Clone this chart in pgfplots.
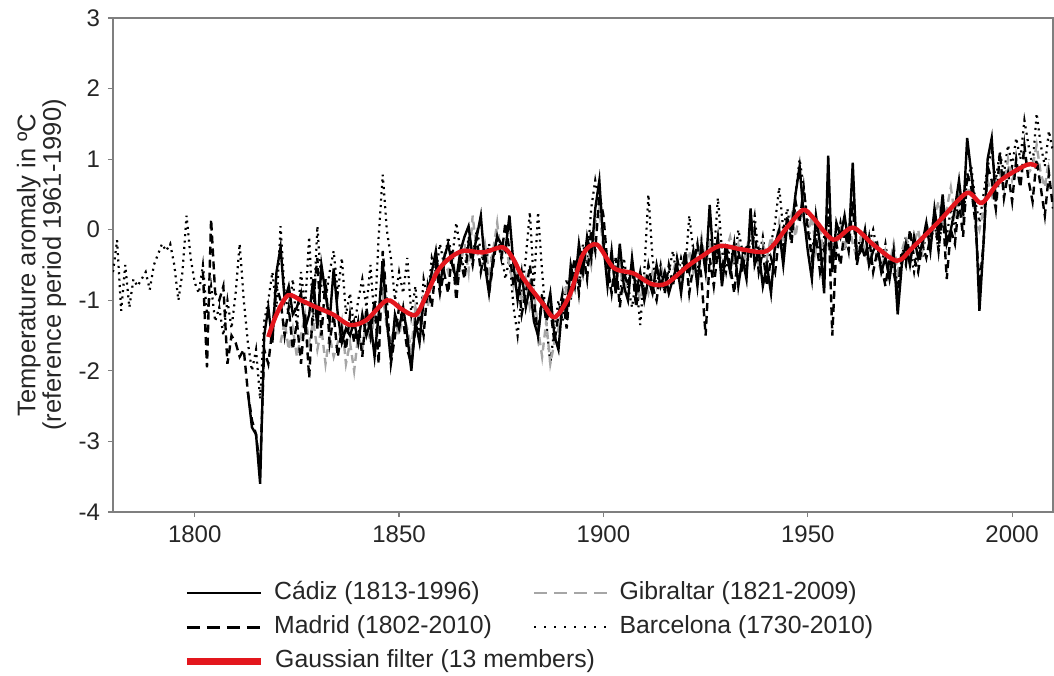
\documentclass[border=0pt]{standalone}
\usepackage{fontspec}
\setmainfont{Liberation Sans}
\usepackage{pgfplots}
\usepackage{pgfplotstable}
\pgfplotsset{compat=1.18}
\definecolor{framegray}{HTML}{7F7F7F}
\definecolor{gibgray}{HTML}{A6A6A6}
\definecolor{filtred}{HTML}{E3161D}

\pgfplotstableread[row sep=\\]{x y\\
1813 -2.3\\ 1814 -2.8\\ 1815 -2.9\\ 1816 -3.6\\ 1817 -1.5\\ 1818 -1.1\\ 1819 -1.6\\ 1820 -0.6\\
1821 -0.25\\ 1822 -1.0\\ 1823 -0.8\\ 1824 -1.2\\ 1825 -1.1\\ 1826 -0.9\\ 1827 -1.4\\ 1828 -1.2\\ 1829 -0.7\\ 1830 -1.4\\
1831 -0.5\\ 1832 -0.9\\ 1833 -1.3\\ 1834 -0.55\\ 1835 -1.2\\ 1836 -1.6\\ 1837 -1.4\\ 1838 -1.5\\ 1839 -1.3\\ 1840 -1.6\\
1841 -1.2\\ 1842 -1.5\\ 1843 -1.3\\ 1844 -1.8\\ 1845 -1.2\\ 1846 -0.45\\ 1847 -1.3\\ 1848 -1.85\\ 1849 -1.2\\ 1850 -1.4\\
1851 -1.1\\ 1852 -1.5\\ 1853 -2.0\\ 1854 -1.3\\ 1855 -1.6\\ 1856 -1.0\\ 1857 -0.9\\ 1858 -0.6\\ 1859 -0.3\\ 1860 -0.8\\
1861 -0.4\\ 1862 -0.2\\ 1863 -0.5\\ 1864 -0.7\\ 1865 -0.3\\ 1866 -0.1\\ 1867 0.05\\ 1868 -0.4\\ 1869 -0.1\\ 1870 0.2\\
1871 -0.5\\ 1872 -0.9\\ 1873 -0.4\\ 1874 -0.1\\ 1875 -0.2\\ 1876 -0.3\\ 1877 0.2\\ 1878 -0.5\\ 1879 -1.0\\ 1880 -0.6\\
1881 -1.1\\ 1882 -0.8\\ 1883 -1.3\\ 1884 -1.5\\ 1885 -1.0\\ 1886 -1.2\\ 1887 -0.9\\ 1888 -1.5\\ 1889 -1.7\\ 1890 -1.0\\
1891 -1.2\\ 1892 -0.5\\ 1893 -0.8\\ 1894 -0.2\\ 1895 -0.6\\ 1896 -0.1\\ 1897 -0.4\\ 1898 0.3\\ 1899 0.7\\ 1900 -0.2\\
1901 -0.8\\ 1902 -0.3\\ 1903 -0.9\\ 1904 -0.2\\ 1905 -0.8\\ 1906 -1.0\\ 1907 -0.4\\ 1908 -0.9\\ 1909 -0.6\\ 1910 -1.0\\
1911 -0.7\\ 1912 -0.9\\ 1913 -0.5\\ 1914 -0.8\\ 1915 -0.6\\ 1916 -0.9\\ 1917 -0.7\\ 1918 -0.5\\ 1919 -0.9\\ 1920 -0.4\\
1921 -0.6\\ 1922 -0.3\\ 1923 -0.8\\ 1924 -0.2\\ 1925 -0.6\\ 1926 0.35\\ 1927 -0.5\\ 1928 -0.1\\ 1929 -0.8\\ 1930 -0.3\\
1931 -0.6\\ 1932 -0.2\\ 1933 -0.8\\ 1934 -0.4\\ 1935 -0.7\\ 1936 0.3\\ 1937 -0.5\\ 1938 -0.3\\ 1939 -0.8\\ 1940 -0.5\\
1941 -0.9\\ 1942 -0.2\\ 1943 0.0\\ 1944 -0.5\\ 1945 0.1\\ 1946 0.0\\ 1947 0.5\\ 1948 0.9\\ 1949 0.2\\ 1950 -0.3\\
1951 -0.7\\ 1952 0.2\\ 1953 -0.2\\ 1954 -0.9\\ 1955 1.05\\ 1956 -0.6\\ 1957 0.1\\ 1958 -0.1\\ 1959 0.2\\ 1960 -0.2\\
1961 0.95\\ 1962 -0.4\\ 1963 -0.3\\ 1964 0.0\\ 1965 -0.5\\ 1966 -0.3\\ 1967 -0.2\\ 1968 -0.6\\ 1969 -0.4\\ 1970 -0.7\\
1971 -0.3\\ 1972 -1.2\\ 1973 -0.5\\ 1974 -0.2\\ 1975 -0.5\\ 1976 -0.1\\ 1977 -0.4\\ 1978 -0.2\\ 1979 0.1\\ 1980 -0.3\\
1981 0.3\\ 1982 -0.1\\ 1983 0.5\\ 1984 -0.2\\ 1985 0.0\\ 1986 0.3\\ 1987 0.7\\ 1988 0.2\\ 1989 1.3\\ 1990 0.8\\
1991 0.3\\ 1992 -1.15\\ 1993 -0.2\\ 1994 1.0\\ 1995 1.3\\ 1996 0.4\\
}\cadiz

\pgfplotstableread[row sep=\\]{x y\\
1802 -0.6\\ 1803 -1.95\\ 1804 0.15\\ 1805 -0.9\\ 1806 -1.0\\ 1807 -0.8\\ 1808 -1.9\\ 1809 -1.5\\ 1810 -1.6\\
1811 -1.8\\ 1812 -1.7\\ 1813 -2.3\\ 1814 -2.7\\ 1815 -2.9\\ 1816 -3.4\\ 1817 -1.7\\ 1818 -1.9\\ 1819 -1.4\\ 1820 -0.8\\
1821 -1.0\\ 1822 -1.5\\ 1823 -1.1\\ 1824 -1.7\\ 1825 -1.3\\ 1826 -1.9\\ 1827 -1.2\\ 1828 -2.1\\ 1829 -1.0\\ 1830 -0.4\\
1831 -1.5\\ 1832 -0.7\\ 1833 -1.6\\ 1834 -1.2\\ 1835 -1.8\\ 1836 -1.4\\ 1837 -1.7\\ 1838 -1.2\\ 1839 -1.6\\ 1840 -1.3\\
1841 -1.8\\ 1842 -1.1\\ 1843 -1.5\\ 1844 -1.0\\ 1845 -1.9\\ 1846 -0.3\\ 1847 -1.0\\ 1848 -1.9\\ 1849 -1.5\\ 1850 -1.1\\
1851 -1.3\\ 1852 -1.7\\ 1853 -1.9\\ 1854 -1.4\\ 1855 -1.2\\ 1856 -1.5\\ 1857 -0.8\\ 1858 -1.1\\ 1859 -0.5\\ 1860 -0.9\\
1861 -0.6\\ 1862 -0.9\\ 1863 -0.3\\ 1864 -1.0\\ 1865 -0.4\\ 1866 -0.7\\ 1867 -0.2\\ 1868 -0.5\\ 1869 -0.1\\ 1870 -0.6\\
1871 -0.3\\ 1872 -0.9\\ 1873 -0.5\\ 1874 -0.1\\ 1875 -0.4\\ 1876 0.1\\ 1877 -0.3\\ 1878 -0.8\\ 1879 -0.6\\ 1880 -1.2\\
1881 -0.9\\ 1882 -0.5\\ 1883 -1.0\\ 1884 -1.5\\ 1885 -0.9\\ 1886 -1.3\\ 1887 -1.1\\ 1888 -1.6\\ 1889 -1.2\\ 1890 -0.9\\
1891 -1.4\\ 1892 -0.7\\ 1893 -0.4\\ 1894 -0.9\\ 1895 -0.3\\ 1896 -0.7\\ 1897 0.0\\ 1898 -0.3\\ 1899 0.5\\ 1900 0.2\\
1901 -0.5\\ 1902 -0.9\\ 1903 -0.4\\ 1904 -1.1\\ 1905 -0.6\\ 1906 -0.8\\ 1907 -0.5\\ 1908 -1.1\\ 1909 -0.7\\ 1910 -0.9\\
1911 -0.5\\ 1912 -0.8\\ 1913 -1.0\\ 1914 -0.6\\ 1915 -0.9\\ 1916 -0.5\\ 1917 -0.8\\ 1918 -0.4\\ 1919 -0.7\\ 1920 -0.3\\
1921 -0.9\\ 1922 -0.5\\ 1923 -0.2\\ 1924 -0.7\\ 1925 -1.5\\ 1926 -0.4\\ 1927 -0.8\\ 1928 -0.3\\ 1929 -0.6\\ 1930 -0.2\\
1931 -0.5\\ 1932 -0.9\\ 1933 -0.3\\ 1934 -0.6\\ 1935 -0.2\\ 1936 -0.4\\ 1937 0.0\\ 1938 -0.6\\ 1939 -0.3\\ 1940 -0.8\\
1941 -0.4\\ 1942 -0.6\\ 1943 -0.1\\ 1944 -0.3\\ 1945 0.2\\ 1946 -0.2\\ 1947 0.4\\ 1948 0.1\\ 1949 0.6\\ 1950 0.0\\
1951 -0.4\\ 1952 -0.1\\ 1953 -0.6\\ 1954 -0.3\\ 1955 0.3\\ 1956 -1.5\\ 1957 -0.2\\ 1958 -0.5\\ 1959 0.0\\ 1960 -0.3\\
1961 0.4\\ 1962 -0.5\\ 1963 -0.2\\ 1964 -0.4\\ 1965 -0.1\\ 1966 -0.6\\ 1967 -0.3\\ 1968 -0.5\\ 1969 -0.8\\ 1970 -0.4\\
1971 -0.6\\ 1972 -0.9\\ 1973 -0.3\\ 1974 -0.5\\ 1975 0.0\\ 1976 -0.4\\ 1977 -0.6\\ 1978 -0.2\\ 1979 -0.4\\ 1980 -0.1\\
1981 0.2\\ 1982 -0.3\\ 1983 0.3\\ 1984 -0.7\\ 1985 0.0\\ 1986 -0.2\\ 1987 0.4\\ 1988 -0.1\\ 1989 0.8\\ 1990 0.6\\
1991 0.1\\ 1992 -0.8\\ 1993 -0.2\\ 1994 0.9\\ 1995 0.7\\ 1996 0.3\\ 1997 1.1\\ 1998 0.45\\ 1999 0.8\\ 2000 0.4\\
2001 1.0\\ 2002 0.6\\ 2003 1.2\\ 2004 0.7\\ 2005 0.4\\ 2006 1.0\\ 2007 0.6\\ 2008 0.2\\ 2009 0.8\\ 2010 0.3\\
}\madrid

\pgfplotstableread[row sep=\\]{x y\\
1821 -1.6\\ 1822 -1.3\\ 1823 -1.7\\ 1824 -1.4\\ 1825 -1.8\\ 1826 -1.5\\ 1827 -1.2\\ 1828 -1.6\\ 1829 -1.3\\ 1830 -1.7\\
1831 -1.4\\ 1832 -1.9\\ 1833 -1.5\\ 1834 -1.8\\ 1835 -1.6\\ 1836 -1.3\\ 1837 -1.9\\ 1838 -1.6\\ 1839 -2.0\\ 1840 -1.5\\
1841 -1.7\\ 1842 -1.3\\ 1843 -1.6\\ 1844 -1.2\\ 1845 -1.5\\ 1846 -0.9\\ 1847 -1.4\\ 1848 -1.6\\ 1849 -1.3\\ 1850 -1.5\\
1851 -1.2\\ 1852 -1.4\\ 1853 -1.7\\ 1854 -1.1\\ 1855 -1.3\\ 1856 -0.9\\ 1857 -1.1\\ 1858 -0.7\\ 1859 -0.5\\ 1860 -0.9\\
1861 -0.4\\ 1862 -0.6\\ 1863 -0.3\\ 1864 -0.8\\ 1865 -0.5\\ 1866 -0.2\\ 1867 -0.6\\ 1868 0.2\\ 1869 -0.3\\ 1870 -0.5\\
1871 -0.2\\ 1872 -0.6\\ 1873 -0.3\\ 1874 0.1\\ 1875 -0.4\\ 1876 -0.2\\ 1877 -0.5\\ 1878 -0.8\\ 1879 -0.6\\ 1880 -1.0\\
1881 -0.7\\ 1882 -1.1\\ 1883 -0.9\\ 1884 -1.4\\ 1885 -1.8\\ 1886 -1.3\\ 1887 -1.9\\ 1888 -1.6\\ 1889 -1.4\\ 1890 -1.1\\
1891 -0.8\\ 1892 -1.0\\ 1893 -0.6\\ 1894 -0.4\\ 1895 -0.7\\ 1896 -0.2\\ 1897 -0.5\\ 1898 0.1\\ 1899 0.3\\ 1900 -0.3\\
1901 -0.6\\ 1902 -0.4\\ 1903 -0.8\\ 1904 -0.5\\ 1905 -0.9\\ 1906 -0.7\\ 1907 -0.5\\ 1908 -0.8\\ 1909 -1.0\\ 1910 -0.7\\
1911 -0.9\\ 1912 -0.6\\ 1913 -0.8\\ 1914 -0.5\\ 1915 -0.7\\ 1916 -0.9\\ 1917 -0.6\\ 1918 -0.4\\ 1919 -0.7\\ 1920 -0.5\\
1921 -0.3\\ 1922 -0.6\\ 1923 -0.4\\ 1924 -0.1\\ 1925 -0.5\\ 1926 -0.2\\ 1927 -0.4\\ 1928 -0.2\\ 1929 -0.5\\ 1930 -0.3\\
1931 -0.1\\ 1932 -0.4\\ 1933 -0.2\\ 1934 -0.5\\ 1935 -0.3\\ 1936 0.0\\ 1937 -0.3\\ 1938 -0.5\\ 1939 -0.2\\ 1940 -0.4\\
1941 -0.1\\ 1942 -0.3\\ 1943 0.1\\ 1944 -0.2\\ 1945 0.0\\ 1946 0.2\\ 1947 -0.1\\ 1948 0.3\\ 1949 0.1\\ 1950 -0.1\\
1951 0.2\\ 1952 -0.3\\ 1953 0.0\\ 1954 -0.4\\ 1955 -0.1\\ 1956 -0.5\\ 1957 -0.2\\ 1958 0.0\\ 1959 -0.3\\ 1960 0.1\\
1961 -0.2\\ 1962 -0.4\\ 1963 -0.1\\ 1964 -0.3\\ 1965 -0.5\\ 1966 -0.2\\ 1967 -0.4\\ 1968 -0.6\\ 1969 -0.3\\ 1970 -0.5\\
1971 -0.2\\ 1972 -0.6\\ 1973 -0.3\\ 1974 -0.1\\ 1975 -0.4\\ 1976 -0.2\\ 1977 0.0\\ 1978 -0.3\\ 1979 0.1\\ 1980 -0.1\\
1981 0.2\\ 1982 0.4\\ 1983 0.1\\ 1984 0.3\\ 1985 0.6\\ 1986 0.2\\ 1987 0.4\\ 1988 0.1\\ 1989 0.6\\ 1990 0.5\\
1991 0.2\\ 1992 0.0\\ 1993 0.3\\ 1994 0.7\\ 1995 0.5\\ 1996 0.3\\ 1997 0.8\\ 1998 0.6\\ 1999 1.0\\ 2000 0.7\\
2001 0.9\\ 2002 0.6\\ 2003 1.1\\ 2004 0.8\\ 2005 0.9\\ 2006 1.2\\ 2007 0.8\\ 2008 0.6\\ 2009 1.0\\
}\gibraltar

\pgfplotstableread[row sep=\\]{x y\\
1780 -0.6\\ 1781 -0.15\\ 1782 -1.15\\ 1783 -0.5\\ 1784 -1.1\\ 1785 -0.7\\ 1786 -0.8\\ 1787 -0.7\\ 1788 -0.6\\ 1789 -0.85\\
1790 -0.5\\ 1791 -0.35\\ 1792 -0.2\\ 1793 -0.3\\ 1794 -0.2\\ 1795 -0.5\\ 1796 -1.0\\ 1797 -0.6\\ 1798 0.2\\ 1799 -0.4\\
1800 -0.75\\ 1801 -0.9\\ 1802 -0.5\\ 1803 -1.2\\ 1804 -0.8\\ 1805 -1.3\\ 1806 -1.1\\ 1807 -1.5\\ 1808 -1.0\\ 1809 -1.4\\
1810 -0.9\\ 1811 -0.2\\ 1812 -1.0\\ 1813 -1.6\\ 1814 -2.0\\ 1815 -1.7\\ 1816 -2.4\\ 1817 -1.3\\ 1818 -1.0\\ 1819 -0.6\\
1820 -1.1\\ 1821 0.05\\ 1822 -0.9\\ 1823 -1.2\\ 1824 -0.7\\ 1825 -1.4\\ 1826 -0.6\\ 1827 -1.1\\ 1828 -0.1\\ 1829 -1.3\\
1830 0.05\\ 1831 -0.8\\ 1832 -1.0\\ 1833 -0.6\\ 1834 -0.3\\ 1835 -0.9\\ 1836 -0.4\\ 1837 -1.2\\ 1838 -0.9\\ 1839 -1.4\\
1840 -1.0\\ 1841 -0.7\\ 1842 -1.1\\ 1843 -0.5\\ 1844 -1.3\\ 1845 -0.1\\ 1846 0.78\\ 1847 0.0\\ 1848 -0.4\\ 1849 -1.0\\
1850 -0.6\\ 1851 -0.9\\ 1852 -0.4\\ 1853 -1.2\\ 1854 -0.8\\ 1855 -1.5\\ 1856 -0.7\\ 1857 -1.0\\ 1858 -0.4\\ 1859 -0.6\\
1860 -0.2\\ 1861 -0.5\\ 1862 -0.1\\ 1863 -0.4\\ 1864 0.1\\ 1865 -0.3\\ 1866 -0.6\\ 1867 -0.1\\ 1868 -0.4\\ 1869 0.0\\
1870 -0.3\\ 1871 -0.6\\ 1872 -0.2\\ 1873 -0.5\\ 1874 -0.1\\ 1875 -0.3\\ 1876 -0.7\\ 1877 -0.4\\ 1878 -1.1\\ 1879 -1.5\\
1880 -0.9\\ 1881 -0.4\\ 1882 0.25\\ 1883 -0.8\\ 1884 0.25\\ 1885 -0.6\\ 1886 -1.3\\ 1887 -1.9\\ 1888 -1.4\\ 1889 -1.0\\
1890 -1.3\\ 1891 -0.7\\ 1892 -1.0\\ 1893 -0.5\\ 1894 -0.8\\ 1895 -0.2\\ 1896 -0.5\\ 1897 0.3\\ 1898 0.7\\ 1899 0.4\\
1900 -0.1\\ 1901 -0.6\\ 1902 -0.9\\ 1903 -0.5\\ 1904 -1.0\\ 1905 -0.4\\ 1906 -0.8\\ 1907 -1.1\\ 1908 -0.7\\ 1909 -1.35\\
1910 -0.6\\ 1911 0.5\\ 1912 -0.4\\ 1913 -0.8\\ 1914 -0.5\\ 1915 -0.9\\ 1916 -0.6\\ 1917 -0.3\\ 1918 -0.7\\ 1919 -0.4\\
1920 -0.6\\ 1921 0.2\\ 1922 -0.3\\ 1923 -0.6\\ 1924 -0.2\\ 1925 -0.5\\ 1926 -0.1\\ 1927 -0.4\\ 1928 0.45\\ 1929 -0.3\\
1930 -0.6\\ 1931 -0.2\\ 1932 -0.5\\ 1933 0.0\\ 1934 -0.3\\ 1935 -0.6\\ 1936 -0.1\\ 1937 0.2\\ 1938 -0.4\\ 1939 -0.1\\
1940 -0.5\\ 1941 -0.2\\ 1942 0.1\\ 1943 0.6\\ 1944 0.0\\ 1945 0.3\\ 1946 -0.1\\ 1947 0.5\\ 1948 1.0\\ 1949 0.6\\
1950 0.1\\ 1951 -0.3\\ 1952 0.0\\ 1953 -0.4\\ 1954 -0.1\\ 1955 0.2\\ 1956 -0.5\\ 1957 -0.2\\ 1958 0.1\\ 1959 -0.3\\
1960 0.0\\ 1961 0.3\\ 1962 -0.3\\ 1963 -0.1\\ 1964 -0.4\\ 1965 -0.2\\ 1966 0.0\\ 1967 -0.3\\ 1968 -0.5\\ 1969 -0.2\\
1970 -0.6\\ 1971 -0.3\\ 1972 -0.8\\ 1973 -0.4\\ 1974 -0.1\\ 1975 -0.3\\ 1976 -0.6\\ 1977 -0.2\\ 1978 -0.4\\ 1979 0.0\\
1980 -0.2\\ 1981 0.1\\ 1982 -0.3\\ 1983 0.2\\ 1984 -0.1\\ 1985 0.3\\ 1986 0.0\\ 1987 0.5\\ 1988 0.2\\ 1989 0.7\\
1990 0.9\\ 1991 0.4\\ 1992 0.1\\ 1993 0.5\\ 1994 0.9\\ 1995 1.1\\ 1996 0.7\\ 1997 1.1\\ 1998 0.8\\ 1999 1.2\\
2000 0.9\\ 2001 1.3\\ 2002 1.0\\ 2003 1.55\\ 2004 1.2\\ 2005 0.9\\ 2006 1.65\\ 2007 1.2\\ 2008 0.9\\ 2009 1.4\\ 2010 1.1\\
}\barcelona

\pgfplotstableread[row sep=\\]{x y\\
1818 -1.52\\ 1820 -1.2\\ 1822.8 -0.93\\ 1826 -1.0\\ 1829 -1.08\\ 1833.8 -1.2\\ 1838 -1.35\\ 1842 -1.28\\ 1847 -1.0\\
1850.5 -1.12\\ 1854 -1.21\\ 1856.5 -0.95\\ 1859.3 -0.6\\ 1862 -0.42\\ 1865.6 -0.3\\ 1870.6 -0.32\\ 1875.4 -0.25\\
1878 -0.42\\ 1880.3 -0.68\\ 1885.2 -1.05\\ 1888.1 -1.24\\ 1891.8 -0.92\\ 1895 -0.35\\ 1898.4 -0.21\\ 1902.5 -0.54\\
1907.4 -0.62\\ 1911.8 -0.77\\ 1915.5 -0.76\\ 1920.5 -0.52\\ 1924 -0.38\\ 1928.5 -0.23\\ 1934 -0.28\\ 1940 -0.30\\
1944.9 0.03\\ 1948.8 0.28\\ 1951.3 0.17\\ 1956.2 -0.14\\ 1961 0.03\\ 1966 -0.21\\ 1971.8 -0.44\\ 1975.7 -0.25\\
1982.3 0.13\\ 1988.9 0.52\\ 1992.6 0.38\\ 1997 0.69\\ 2003.6 0.92\\ 2006 0.9\\
}\gauss

\begin{document}
\begin{tikzpicture}
\begin{axis}[
  name=ax,
  at={(0,0)}, anchor=south west,
  scale only axis,
  width=470pt, height=247pt,
  xmin=1780, xmax=2010,
  ymin=-4, ymax=3,
  xtick={1800,1850,...,2000},
  ytick={-4,-3,...,3},
  /pgf/number format/1000 sep={},
  /pgf/number format/assume math mode=true,
  tick align=outside,
  tick pos=left,
  major tick length=2.5pt,
  axis line style={framegray, line width=0.8pt},
  every tick/.style={framegray, line width=0.6pt},
  ticklabel style={font=\fontsize{12}{13}\selectfont, text=black!85},
  xticklabel style={yshift=-1pt},
  yticklabel style={xshift=-0.5pt},
  ylabel={Temperature aromaly in ºC\\(reference period 1961-1990)},
  ylabel style={align=center, anchor=center, at={(axis description cs:-0.076,0.5)},
    font=\fontsize{12.75}{12.8}\selectfont, text=black!85},
  clip=true,
  legend columns=2,
  legend style={draw=none, fill=none, inner sep=0pt,
    at={(axis description cs:0.0745,-0.14)}, anchor=north west,
    font=\fontsize{12.4}{13}\selectfont, text=black!85,
    nodes={inner sep=0pt, text height=9pt, text depth=2.6pt},
    row sep=5.4pt,
    /tikz/every odd column/.append style={column sep=5pt},
    /tikz/every even column/.append style={column sep=20.5pt},
    cells={anchor=west}},
  legend image code/.code={\draw[#1] (0pt,0pt) -- (37pt,0pt);},
]
\addlegendimage{black, line width=1.1pt}
\addlegendentry{Cádiz (1813-1996)}
\addlegendimage{gibgray, line width=1.3pt, dash pattern=on 6.5pt off 3.5pt}
\addlegendentry{Gibraltar (1821-2009)}
\addlegendimage{black, line width=1.4pt, dash pattern=on 6.5pt off 3.5pt}
\addlegendentry{Madrid (1802-2010)}
\addlegendimage{black, line width=1pt, dash pattern=on 1pt off 4pt}
\addlegendentry{Barcelona (1730-2010)}
\addlegendimage{filtred, line width=3.4pt}
\addlegendentry{\rlap{Gaussian filter (13 members)}}

\addplot[forget plot, black, line width=1.1pt, dash pattern=on 1pt off 2.2pt] table[x=x,y=y] {\barcelona};
\addplot[forget plot, gibgray, line width=1.2pt, dash pattern=on 4pt off 2.5pt] table[x=x,y=y] {\gibraltar};
\addplot[forget plot, black, line width=1.2pt, dash pattern=on 4pt off 2.5pt] table[x=x,y=y] {\madrid};
\addplot[forget plot, black, line width=1.2pt] table[x=x,y=y] {\cadiz};
\addplot[forget plot, filtred, line width=2.2pt, smooth] table[x=x,y=y] {\gauss};
\end{axis}
\pgfresetboundingbox
\useasboundingbox (-56.5pt,-81.5pt) rectangle (470.5pt,256pt);
\end{tikzpicture}
\end{document}
